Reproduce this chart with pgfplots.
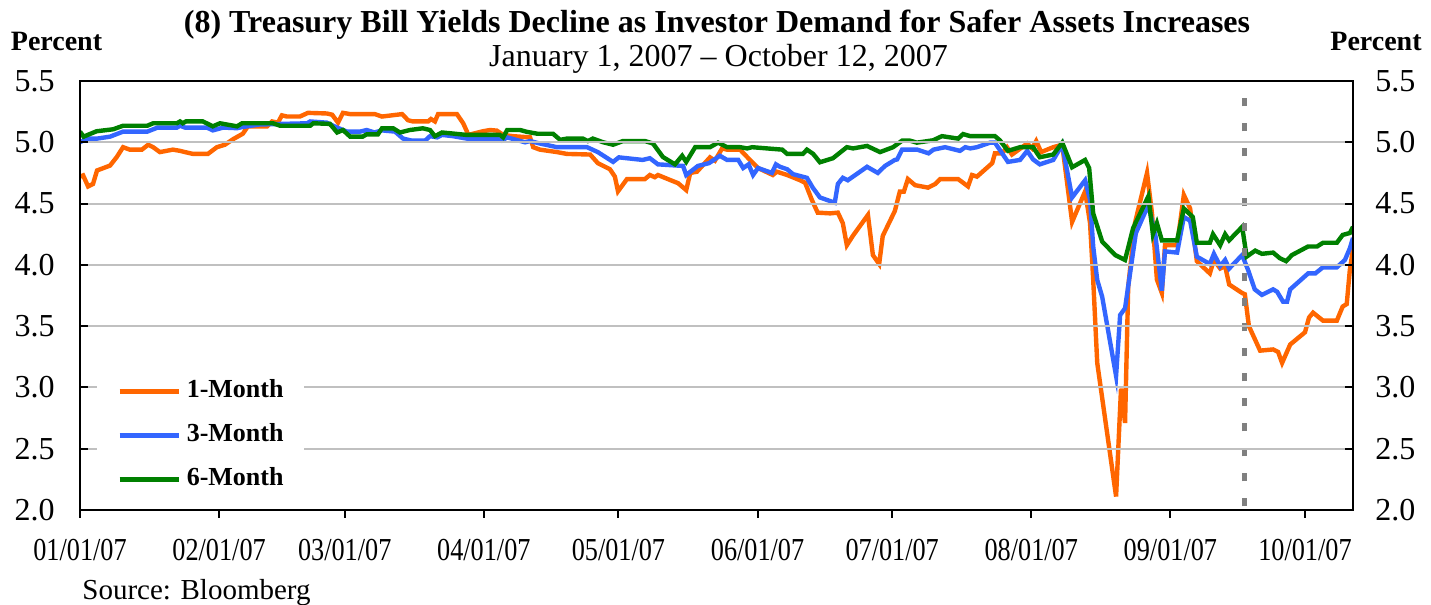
\documentclass[border=0pt]{standalone}
\usepackage{fontspec}
\setmainfont{Liberation Serif}
\usepackage{graphicx}
\usepackage{pgfplots}
\pgfplotsset{compat=1.18}
\definecolor{cOr}{RGB}{255,102,0}
\definecolor{cBl}{RGB}{51,102,255}
\definecolor{cGr}{RGB}{0,128,0}
\definecolor{cGrid}{RGB}{192,192,192}
\definecolor{cDash}{RGB}{128,128,128}
\newcommand\xl[1]{\scalebox{0.82}[1]{#1}}
\begin{document}
\begin{tikzpicture}
\useasboundingbox (-40pt,-47.5pt) rectangle (675.5pt,255pt);
\begin{axis}[
  scale only axis, width=636.5pt, height=214.5pt,
  xmin=0, xmax=283.7, ymin=2, ymax=5.5,
  /pgf/number format/assume math mode=true,
  xtick={0,31,59,90,120,151,181,212,243,273},
  xticklabels={\xl{01/01/07},\xl{02/01/07},\xl{03/01/07},\xl{04/01/07},\xl{05/01/07},\xl{06/01/07},\xl{07/01/07},\xl{08/01/07},\xl{09/01/07},\xl{10/01/07}},
  ytick={2,2.5,3,3.5,4,4.5,5,5.5},
  yticklabel style={/pgf/number format/.cd, fixed, fixed zerofill, precision=1, /tikz/.cd,
    font=\fontsize{16}{16}\selectfont, inner xsep=0pt, anchor=east, xshift=-12.5pt},
  xticklabel style={font=\fontsize{16}{16}\selectfont, anchor=base, yshift=-25.5pt},
  xtick pos=left, ytick pos=left,
  tick align=inside,
  major tick length=4pt,
  tick style={black, line width=1pt},
  x tick style={yshift=-4pt},
  ymajorgrids, grid style={cGrid, line width=1pt},
  axis line style={line width=1.2pt},
  axis on top,
  legend style={at={(axis description cs:0.01335,0.3415)}, anchor=north west,
    draw=none, fill=white, font=\bfseries\fontsize{13}{13}\selectfont,
    inner xsep=10pt, inner ysep=8pt, row sep=10.5pt,
    nodes={inner sep=0pt, text height=9pt, text depth=2.5pt},
    /tikz/every odd column/.append style={column sep=3pt}},
  legend cell align=left,
  legend image code/.code={\draw[#1, line width=2.2pt] (0pt,0pt) -- (29.5pt,0pt);},
]
\addplot[cOr, line width=2.2pt] coordinates {
(0,4.72)(0.7,4.73)(1.8,4.64)(2.9,4.66)(3.8,4.77)(6.7,4.81)(8.2,4.88)(9.6,4.96)(11.1,4.94)(13.8,4.94)(15.2,4.98)(16.3,4.96)(17.8,4.92)(20.7,4.94)(22.3,4.93)(23.4,4.92)(25.2,4.905)(28.5,4.905)(30.5,4.96)(32.3,4.98)(34.1,5.025)(36.3,5.07)(37.4,5.13)(41.7,5.13)(42.8,5.17)(44.1,5.16)(45.0,5.22)(46.1,5.21)(49.0,5.21)(50.8,5.24)(55.0,5.235)(56.2,5.225)(57.5,5.16)(58.6,5.24)(60.2,5.23)(65.7,5.23)(67.3,5.21)(71.8,5.23)(73.1,5.18)(74.2,5.17)(77.6,5.17)(78.2,5.19)(79.1,5.17)(79.8,5.23)(84.0,5.23)(85.4,5.155)(86.2,5.09)(86.5,5.06)(89.8,5.09)(91.4,5.10)(92.9,5.095)(94.3,5.06)(96.5,5.05)(100.3,5.04)(101.0,4.96)(102.5,4.94)(106.3,4.92)(108.5,4.905)(113.7,4.90)(115.4,4.83)(118.1,4.78)(119.2,4.72)(119.9,4.60)(121.9,4.70)(125.9,4.70)(127.0,4.733)(128.1,4.715)(128.8,4.733)(131.0,4.70)(133.3,4.666)(135.1,4.61)(136.0,4.75)(137.5,4.76)(140.4,4.877)(141.5,4.85)(143.1,4.95)(144.2,4.94)(147.1,4.94)(149.3,4.856)(151.1,4.79)(154.4,4.733)(155.3,4.76)(157.6,4.733)(160.5,4.69)(161.6,4.67)(163.1,4.53)(164.4,4.426)(167.2,4.42)(168.9,4.426)(170.0,4.34)(170.9,4.16)(172.3,4.24)(175.6,4.407)(176.7,4.08)(178.1,4.007)(178.9,4.236)(181.6,4.44)(182.7,4.597)(183.6,4.597)(184.5,4.70)(186.1,4.65)(189.0,4.63)(190.6,4.66)(191.7,4.70)(195.7,4.70)(197.9,4.64)(198.8,4.733)(199.9,4.72)(203.3,4.83)(203.9,4.91)(205.5,4.91)(206.6,4.96)(207.7,4.90)(211.1,4.99)(212.2,4.95)(213.1,5.01)(214.2,4.92)(216.9,4.96)(218.9,4.98)(221.1,4.35)(224.0,4.60)(225.1,4.34)(225.8,3.88)(226.7,3.20)(230.9,2.11)(232.0,2.99)(232.9,2.71)(233.6,3.82)(235.1,4.34)(237.8,4.75)(238.9,4.42)(240.0,3.88)(241.1,3.77)(241.8,4.16)(244.5,4.16)(246.0,4.57)(247.4,4.46)(248.9,4.03)(251.8,3.93)(252.7,4.04)(254.1,3.97)(255.2,3.99)(256.1,3.84)(259.0,3.77)(259.6,3.76)(260.5,3.50)(263.0,3.30)(265.9,3.31)(267.0,3.29)(267.9,3.20)(269.7,3.35)(273.0,3.45)(273.9,3.57)(274.8,3.61)(277.0,3.545)(280.1,3.545)(281.4,3.66)(282.3,3.68)(283.0,3.96)(283.7,4.13)
};
\addlegendentry{1-Month}
\addplot[cBl, line width=2.2pt] coordinates {
(0,5.0)(1.5,5.03)(3.8,5.03)(6.7,5.046)(9.6,5.087)(15.0,5.087)(17.3,5.12)(21.6,5.12)(22.3,5.135)(23.4,5.12)(28.3,5.12)(29.6,5.097)(31.9,5.12)(35.0,5.115)(36.3,5.125)(40.0,5.145)(45.0,5.15)(50.6,5.155)(51.3,5.17)(55.0,5.16)(57.3,5.12)(59.5,5.087)(62.4,5.087)(63.9,5.10)(65.6,5.08)(67.3,5.097)(70.2,5.087)(72.0,5.03)(74.0,5.013)(76.9,5.013)(78.0,5.05)(79.6,5.04)(80.7,5.06)(83.1,5.05)(86.2,5.03)(92.9,5.03)(94.0,5.013)(95.2,5.04)(99.2,5.0)(100.3,5.01)(102.5,4.99)(106.3,4.96)(113.0,4.96)(115.4,4.92)(118.8,4.84)(120.1,4.877)(125.4,4.856)(127.0,4.87)(128.8,4.82)(134.4,4.807)(135.1,4.733)(137.7,4.807)(140.2,4.83)(142.6,4.89)(144.2,4.856)(146.7,4.856)(147.8,4.79)(149.0,4.82)(150.0,4.733)(151.1,4.79)(154.2,4.75)(155.1,4.82)(156.0,4.80)(157.6,4.78)(158.9,4.74)(162.0,4.71)(163.3,4.63)(164.9,4.55)(168.2,4.507)(168.9,4.66)(170.0,4.71)(171.1,4.69)(175.4,4.80)(177.8,4.75)(179.4,4.807)(181.6,4.856)(182.1,4.86)(183.2,4.94)(186.6,4.94)(189.1,4.91)(190.2,4.94)(192.8,4.96)(196.1,4.93)(197.3,4.96)(198.4,4.95)(199.9,4.96)(202.8,4.997)(203.9,4.997)(206.8,4.84)(209.5,4.856)(211.1,4.93)(212.4,4.86)(213.9,4.82)(216.9,4.856)(218.9,4.98)(221.1,4.55)(224.0,4.69)(225.1,4.53)(225.8,4.15)(226.7,3.877)(227.8,3.74)(230.9,3.094)(231.8,3.59)(232.9,3.646)(235.3,4.258)(238.1,4.49)(239.7,4.23)(241.1,3.79)(241.8,4.11)(244.5,4.10)(246.0,4.39)(247.4,4.36)(248.9,4.067)(251.8,4.007)(252.7,4.09)(254.1,3.99)(255.2,4.04)(256.1,3.97)(259.0,4.08)(260.3,3.96)(261.8,3.80)(263.4,3.755)(265.9,3.80)(266.8,3.78)(268.1,3.70)(269.0,3.70)(269.7,3.80)(273.7,3.93)(275.3,3.93)(277.0,3.98)(280.1,3.98)(281.9,4.04)(283.0,4.135)(283.7,4.22)
};
\addlegendentry{3-Month}
\addplot[cGr, line width=2.2pt] coordinates {
(0,5.087)(0.8,5.046)(3.7,5.09)(7.4,5.106)(9.6,5.135)(15.0,5.135)(16.3,5.155)(21.6,5.155)(22.3,5.17)(22.9,5.155)(23.6,5.17)(27.4,5.17)(29.6,5.13)(31.2,5.155)(35.0,5.13)(36.1,5.155)(43.0,5.155)(44.6,5.135)(51.3,5.135)(52.0,5.155)(55.7,5.15)(57.3,5.08)(58.6,5.10)(60.2,5.046)(63.0,5.046)(63.9,5.065)(66.4,5.065)(67.3,5.114)(69.8,5.114)(71.3,5.08)(73.5,5.10)(76.4,5.114)(78.0,5.10)(79.1,5.05)(80.7,5.08)(86.2,5.06)(93.6,5.06)(94.3,5.04)(95.2,5.10)(98.1,5.10)(99.6,5.085)(101.9,5.07)(105.4,5.07)(107.0,5.02)(108.5,5.03)(112.1,5.03)(113.2,5.01)(114.3,5.03)(116.6,5.00)(118.8,4.98)(121.0,5.01)(125.9,5.01)(127.7,4.99)(129.9,4.88)(132.6,4.82)(134.2,4.89)(135.1,4.84)(137.1,4.96)(140.4,4.96)(142.2,4.997)(144.2,4.96)(147.1,4.96)(148.7,4.95)(149.8,4.96)(153.1,4.95)(156.5,4.94)(157.6,4.905)(161.1,4.905)(162.0,4.94)(163.4,4.905)(164.9,4.837)(167.8,4.87)(170.9,4.96)(172.3,4.95)(175.4,4.97)(178.3,4.92)(181.2,4.96)(183.2,5.013)(185.0,5.013)(186.5,4.997)(190.1,5.016)(192.1,5.05)(195.7,5.03)(196.8,5.067)(198.4,5.05)(203.9,5.05)(205.0,5.016)(206.8,4.93)(209.5,4.96)(212.4,4.96)(213.9,4.878)(216.9,4.90)(218.9,4.997)(221.1,4.796)(224.0,4.856)(224.9,4.79)(225.8,4.42)(227.8,4.19)(230.7,4.08)(232.9,4.04)(234.7,4.30)(238.1,4.56)(239.1,4.25)(240.0,4.34)(241.1,4.20)(244.5,4.20)(246.0,4.46)(248.0,4.39)(248.9,4.18)(251.8,4.18)(252.5,4.25)(254.1,4.16)(255.2,4.25)(256.1,4.20)(259.0,4.31)(260.0,4.067)(261.9,4.116)(263.4,4.09)(265.9,4.10)(267.4,4.054)(268.8,4.03)(270.1,4.08)(273.7,4.15)(275.7,4.15)(277.0,4.18)(280.1,4.18)(281.4,4.244)(283.0,4.26)(283.7,4.31)
};
\addlegendentry{6-Month}
\addplot[cDash, line width=2.5pt, dash pattern=on 4pt off 8.5pt, forget plot] coordinates {(259.6,2.03)(259.6,5.5)};
\end{axis}
\begin{axis}[
  scale only axis, width=636.5pt, height=214.5pt,
  xmin=0, xmax=283.7, ymin=2, ymax=5.5,
  /pgf/number format/assume math mode=true,
  axis x line=none, axis y line*=right,
  ytick={2,2.5,3,3.5,4,4.5,5,5.5},
  yticklabel style={/pgf/number format/.cd, fixed, fixed zerofill, precision=1, /tikz/.cd,
    font=\fontsize{16}{16}\selectfont, inner xsep=0pt, anchor=west, xshift=11pt},
  tick align=inside, major tick length=4pt,
  tick style={black, line width=1pt},
  axis line style={line width=1.2pt, -},
]
\addplot[draw=none, forget plot] coordinates {(0,2)(283.7,5.5)};
\end{axis}
\node[font=\bfseries\fontsize{16}{16}\selectfont, anchor=base] at (318.5pt,238.5pt) {(8) Treasury Bill Yields Decline as Investor Demand for Safer Assets Increases};
\node[font=\fontsize{16}{16}\selectfont, anchor=base] at (319.25pt,221.5pt) {January 1, 2007 \textendash\ October 12, 2007};
\node[font=\bfseries\fontsize{14}{14}\selectfont, anchor=base] at (-11.75pt,229.5pt) {Percent};
\node[font=\bfseries\fontsize{14}{14}\selectfont, anchor=base] at (648pt,229.5pt) {Percent};
\node[font=\fontsize{14.5}{14.5}\selectfont, anchor=base west, inner sep=0pt] at (1pt,-45pt) {Source: Bloomberg};
\end{tikzpicture}
\end{document}
